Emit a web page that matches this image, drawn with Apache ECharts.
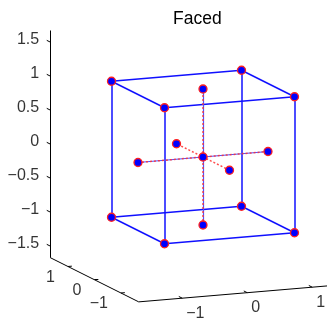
<!DOCTYPE html>
<html>
<head>
<meta charset="utf-8">
<script src="https://cdn.jsdelivr.net/npm/echarts@6/dist/echarts.min.js"></script>
<style>
  html, body { margin: 0; padding: 0; background: #fff; }
  #chart { width: 327px; height: 320px; }
</style>
</head>
<body>
<div id="chart"></div>
<script>
// design points of the face-centred central composite design (coded units)
const factorialPoints = [
  [-1, -1, -1], [1, -1, -1], [-1, 1, -1], [1, 1, -1],
  [-1, -1, 1], [1, -1, 1], [-1, 1, 1], [1, 1, 1],
]
const axialPoints = [
  [-1, 0, 0], [1, 0, 0],
  [0, -1, 0], [0, 1, 0],
  [0, 0, -1], [0, 0, 1],
]
const centerPoints = [[0, 0, 0]]

const xTicks = [-1, 0, 1]
const yTicks = [-1, 0, 1]
const zTicks = [-1.5, -1, -0.5, 0, 0.5, 1, 1.5]
const axisLimit = 1.67
const titleText = 'Faced'

// view: screen vectors (u right, v up) of one unit along x, y, z
const EX = [65, 5.5]
const EY = [-26.5, 13.25]
const EZ = [0, 68]
const proj = ([x, y, z]) => [
  x * EX[0] + y * EY[0] + z * EZ[0],
  x * EX[1] + y * EY[1] + z * EZ[1],
]

const fmt = v => String(v).replace('-', '\u2212')

// cube edges: factorial pairs that differ in exactly one coordinate
const cubeEdges = []
factorialPoints.forEach((a, i) => {
  factorialPoints.forEach((b, j) => {
    if (j <= i) return
    const diff = a.filter((v, k) => v !== b[k]).length
    if (diff === 1) cubeEdges.push({ coords: [proj(a), proj(b)] })
  })
})

// axial lines through the centre
const axialPairs = [0, 1, 2].map(k => [axialPoints[2 * k], axialPoints[2 * k + 1]])
const axialSolid = axialPairs.filter((p, k) => k !== 1).map(p => ({ coords: p.map(proj) }))
const axialDotted = axialPairs.map(p => ({ coords: p.map(proj) }))

// axes box lines
const L = axisLimit
const axisLines = [
  [[-L, L, -L], [-L, L, L]],      // z axis
  [[-L, L, -L], [-L, -L, -L]],    // y axis
  [[-L, -L, -L], [L, -L, -L]],    // x axis
].map(p => ({ coords: p.map(proj) }))

const zTickLen = 0.13, yTickLen = 0.06, xTickLen = 0.13
const tickLines = [
  ...zTicks.map(t => [[-L, L, t], [-L, L + zTickLen, t]]),
  ...yTicks.map(t => [[-L, t, -L], [-L + yTickLen, t, -L]]),
  ...xTicks.map(t => [[t, -L, -L], [t, -L + xTickLen, -L]]),
].map(p => ({ coords: p.map(proj) }))

const labelFont = { fontFamily: 'Liberation Sans, Arial, sans-serif', fontSize: 16, color: '#000' }
const tickLabelSeries = (ticks, toPoint, align, dx, dy) => ({
  type: 'scatter',
  symbolSize: 0,
  silent: true,
  data: ticks.map(t => ({ value: proj(toPoint(t)), name: fmt(t) })),
  label: {
    show: true,
    position: [dx, dy],
    align,
    verticalAlign: 'middle',
    formatter: p => p.name,
    ...labelFont,
  },
  z: 5,
})

const allPoints = [...factorialPoints, ...axialPoints, ...centerPoints].map(proj)

const chart = echarts.init(document.getElementById('chart'), null, { renderer: 'canvas' })
chart.setOption({
  animation: false,
  title: {
    text: titleText,
    left: 168,
    top: 5,
    textStyle: { fontFamily: 'Liberation Sans, Arial, sans-serif', fontSize: 17.5, fontWeight: 'normal', color: '#000' },
  },
  grid: { left: 0, right: 0, top: 0, bottom: 0 },
  xAxis: { type: 'value', min: -203, max: 124, show: false },
  yAxis: { type: 'value', min: -163, max: 157, show: false },
  series: [
    {
      type: 'lines', coordinateSystem: 'cartesian2d', silent: true, z: 1,
      lineStyle: { color: '#000', width: 1, opacity: 1 },
      data: [...axisLines, ...tickLines],
    },
    {
      type: 'lines', coordinateSystem: 'cartesian2d', silent: true, z: 2,
      lineStyle: { color: '#1010ff', width: 1.5, opacity: 1 },
      data: cubeEdges,
    },
    {
      type: 'lines', coordinateSystem: 'cartesian2d', silent: true, z: 2,
      lineStyle: { color: '#5050ff', width: 1.2, opacity: 1 },
      data: axialSolid,
    },
    {
      type: 'lines', coordinateSystem: 'cartesian2d', silent: true, z: 3,
      lineStyle: { color: '#ff3030', width: 1.5, type: [2, 2], opacity: 0.85 },
      data: axialDotted,
    },
    {
      type: 'scatter', z: 4, silent: true,
      symbol: 'circle', symbolSize: 8,
      itemStyle: { color: '#0000ff', borderColor: '#ff2020', borderWidth: 1.3, opacity: 1 },
      data: allPoints,
    },
    tickLabelSeries(zTicks, t => [-L, L, t], 'right', -11, -2.5),
    tickLabelSeries(yTicks, t => [-L, t, -L], 'right', -13, 11),
    tickLabelSeries(xTicks, t => [t, -L, -L], 'left', 4, 15),
  ],
})
</script>
</body>
</html>
